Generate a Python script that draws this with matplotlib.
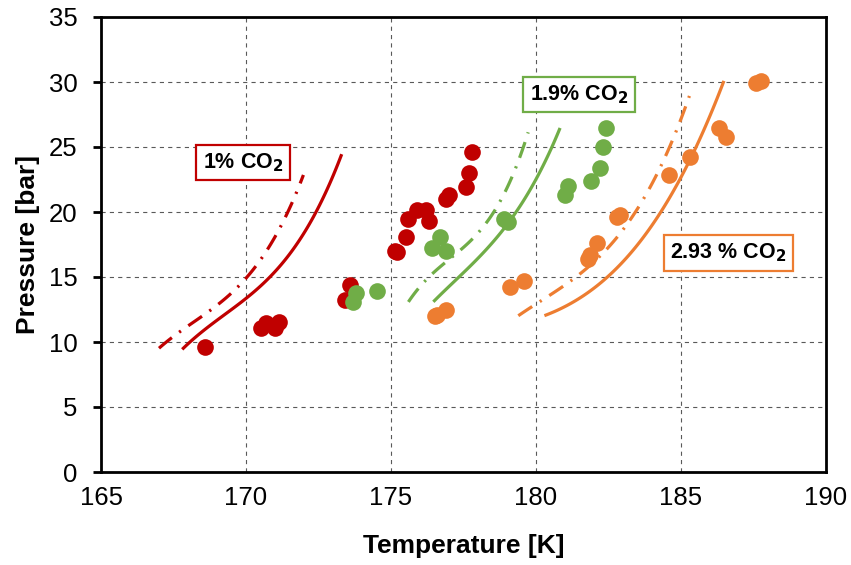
import numpy as np
import matplotlib
matplotlib.use("Agg")
import matplotlib.pyplot as plt

plt.rcParams['font.family'] = ['Liberation Sans', 'DejaVu Sans']
plt.rcParams['lines.scale_dashes'] = False

RED = '#C00000'
GREEN = '#70AD47'
ORANGE = '#ED7D31'

# measured points (temperature K, pressure bar)
red_T = [168.6, 170.5, 170.7, 171.0, 171.15, 173.6, 173.4, 175.15, 175.2, 175.5, 175.6,
         175.9, 176.2, 176.3, 176.9, 177.0, 177.6, 177.7, 177.8]
red_P = [9.6, 11.1, 11.5, 11.05, 11.55, 14.4, 13.2, 17.0, 16.9, 18.1, 19.5,
         20.15, 20.15, 19.3, 21.0, 21.3, 21.9, 23.0, 24.6]

green_T = [173.8, 173.7, 174.5, 176.7, 176.4, 176.9, 178.9, 179.05,
           181.0, 181.1, 181.9, 182.2, 182.3, 182.4]
green_P = [13.8, 13.1, 13.95, 18.05, 17.2, 17.0, 19.5, 19.2,
           21.3, 22.0, 22.4, 23.4, 25.0, 26.5]

orange_T = [176.5, 176.6, 176.9, 179.1, 179.6, 181.8, 181.85, 182.1, 182.8, 182.9,
            184.6, 185.3, 186.3, 186.55, 187.6, 187.75]
orange_P = [12.0, 12.1, 12.5, 14.25, 14.7, 16.4, 16.7, 17.6, 19.6, 19.8,
            22.85, 24.25, 26.45, 25.75, 29.95, 30.1]

# model curves: solid and dash-dot for each composition
red_solid_T = [167.8, 168.64, 170.02, 170.94, 171.63, 172.32, 172.9, 173.3]
red_solid_P = [9.56, 10.8, 13.5, 15.4, 17.2, 19.5, 21.95, 24.7]
red_dd_T = [167.0, 168.41, 169.68, 170.66, 171.52, 171.98]
red_dd_P = [9.56, 11.7, 14.4, 16.8, 20.15, 23.0]

green_solid_T = [176.46, 177.61, 178.76, 179.56, 180.25, 180.83]
green_solid_P = [13.1, 15.55, 18.35, 20.9, 23.5, 26.5]
green_dd_T = [175.6, 177.03, 178.07, 178.99, 179.56, 179.73]
green_dd_P = [13.1, 16.3, 18.75, 21.7, 24.8, 26.3]

orange_solid_T = [180.29, 182.21, 183.7, 184.73, 185.54, 186.48]
orange_solid_P = [12.0, 14.65, 17.85, 21.55, 25.3, 30.0]
orange_dd_T = [179.39, 180.83, 182.21, 183.53, 184.39, 185.02, 185.29]
orange_dd_P = [12.0, 14.25, 16.3, 20.8, 23.75, 26.95, 29.2]

labels = [r'1% CO$_\mathbf{2}$', r'1.9% CO$_\mathbf{2}$', r'2.93 % CO$_\mathbf{2}$']
label_T = [169.9, 181.48, 186.64]
label_P = [23.8, 29.05, 16.85]
colors = [RED, GREEN, ORANGE]


def smooth(t, p, n=80):
    # polynomial fit through the sampled curve points for a clean line
    c = np.polyfit(t, p, 3 if len(t) > 5 else 2)
    tt = np.linspace(t[0], t[-1], n)
    return tt, np.polyval(c, tt)


fig = plt.figure(figsize=(8.51, 5.65), dpi=100)
ax = fig.add_axes([101 / 851, 93 / 565, 725 / 851, 455 / 565])

dashdot = (0, (12, 6.5, 1.6, 6.5))
curves = [
    (red_solid_T, red_solid_P, red_dd_T, red_dd_P, RED),
    (green_solid_T, green_solid_P, green_dd_T, green_dd_P, GREEN),
    (orange_solid_T, orange_solid_P, orange_dd_T, orange_dd_P, ORANGE),
]
for st, sp, dt, dp, c in curves:
    x, y = smooth(st, sp)
    ax.plot(x, y, color=c, lw=2.3, solid_capstyle='butt', zorder=2)
    x, y = smooth(dt, dp)
    ax.plot(x, y, color=c, lw=2.3, linestyle=dashdot, dash_capstyle='butt', zorder=2)

ax.plot(red_T, red_P, 'o', color=RED, ms=12, mec='none', zorder=3)
ax.plot(green_T, green_P, 'o', color=GREEN, ms=12, mec='none', zorder=4)
ax.plot(orange_T, orange_P, 'o', color=ORANGE, ms=12, mec='none', zorder=4)

for txt, t, p, c in zip(labels, label_T, label_P, colors):
    ax.text(t, p, txt, ha='center', va='center', fontsize=15.5, fontweight='bold',
            bbox=dict(boxstyle='square,pad=0.3', fc='white', ec=c, lw=1.6), zorder=5)

ax.set_xlim(165, 190)
ax.set_ylim(0, 35)
ax.set_xticks(np.arange(165, 191, 5))
ax.set_yticks(np.arange(0, 36, 5))
ax.grid(True, color='#595959', linestyle=(0, (3, 3)), lw=0.8)
ax.set_axisbelow(True)
for s in ax.spines.values():
    s.set_linewidth(2.0)
    s.set_color('black')
ax.tick_params(axis='x', length=0, pad=10, labelsize=18.5)
ax.tick_params(axis='y', length=6, width=2, pad=11, labelsize=18.5)
ax.set_xlabel('Temperature [K]', fontsize=19, fontweight='bold', labelpad=17)
ax.set_ylabel('Pressure [bar]', fontsize=19, fontweight='bold', labelpad=6)

fig.savefig('out.png', dpi=100)
